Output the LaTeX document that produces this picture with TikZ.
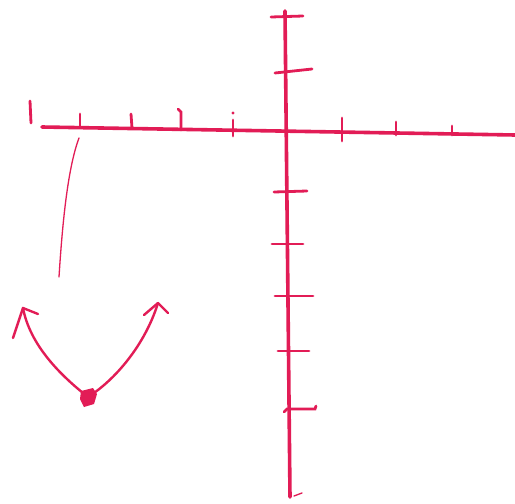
\documentclass[tikz,border=0pt]{standalone}
\usetikzlibrary{arrows.meta}
\definecolor{ink}{RGB}{226,28,86}
\begin{document}
\begin{tikzpicture}[x=1pt,y=-1pt,
  axis/.style={draw=ink,line width=3.6pt,line cap=round},
  tick/.style={draw=ink,line width=2.8pt,line cap=round},
  thin/.style={draw=ink,line width=1.3pt,line cap=round},
  curve/.style={draw=ink,line width=2.4pt,line cap=round,line join=round}]
\useasboundingbox[fill=white] (0,0) rectangle (515,504);
% axes
\coordinate (xl) at (42,127);
\coordinate (xr) at (515,135);
\coordinate (yt) at (285,11);
\coordinate (yb) at (290,497);
\draw[axis] (xl) -- (xr);
\draw[axis] (yt) -- (yb);
% mark at left
\draw[tick] (30,101) -- (31,123);
% left ticks
\draw[tick] (80,114) -- (80,127);
\draw[tick] (131,114) -- (132,128);
\draw[tick] (178,109) -- (181,112) -- (181,130);
\draw[tick] (233,120) -- (233,136);
\fill[ink] (233,113) circle (1.6);
% right ticks
\draw[tick] (342,118) -- (342,141);
\draw[tick] (396,122) -- (396,135);
\draw[tick] (452,126) -- (452,135);
% upper ticks
\draw[tick] (271,17) -- (303,16);
\draw[tick] (275,73) -- (312,69);
% lower ticks
\draw[tick] (274,192) -- (307,191);
\draw[tick] (272,244) -- (303,244);
\draw[tick] (275,296) -- (313,296);
\draw[tick] (278,351) -- (309,351);
\draw[tick] (284,412) -- (287,409) -- (315,409) -- (316,406);
\draw[thin] (294,496) -- (302,493);
% thin connecting line
\coordinate (ls) at (79,138);
\coordinate (le) at (59,277);
\draw[thin] (ls) .. controls (67,170) and (62,230) .. (le);
% parabola
\coordinate (v) at (88,397);
\coordinate (lt) at (23,308);
\coordinate (rt) at (158,303);
\draw[curve] (v) .. controls (60,375) and (30,345) .. (lt);
\draw[curve] (v) .. controls (115,380) and (145,345) .. (rt);
% arrowheads
\draw[curve] (13,338) -- (lt) -- (38,314);
\draw[curve] (144,315) -- (rt) -- (168,313);
% vertex dot
\fill[ink] (81,391) -- (93,388) -- (97,394) -- (94,404) -- (84,407) -- (80,399) -- cycle;
\end{tikzpicture}
\end{document}
